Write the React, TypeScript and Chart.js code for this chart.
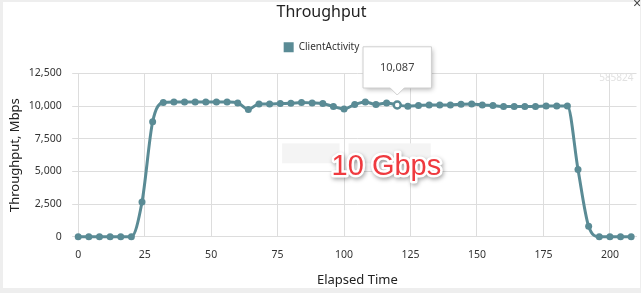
import React, { useEffect, useRef } from 'react';
import { Chart, registerables } from 'chart.js';

Chart.register(...registerables);

// ---- data ----
const elapsedTime = [
  0, 4, 8, 12, 16, 20, 24, 28, 32, 36, 40, 44, 48, 52, 56, 60, 64, 68, 72, 76,
  80, 84, 88, 92, 96, 100, 104, 108, 112, 116, 120, 124, 128, 132, 136, 140,
  144, 148, 152, 156, 160, 164, 168, 172, 176, 180, 184, 188, 192, 196, 200,
  204, 208,
];
const clientActivity = [
  0, 0, 0, 0, 0, 0, 2650, 8800, 10280, 10320, 10320, 10320, 10320, 10320,
  10310, 10250, 9750, 10170, 10170, 10200, 10220, 10270, 10250, 10200, 9970,
  9790, 10120, 10320, 10120, 10250, 10087, 10000, 10040, 10090, 10090, 10090,
  10140, 10170, 10090, 10040, 9970, 9970, 9970, 9970, 10020, 10020, 10020,
  5150, 800, 0, 0, 0, 0,
];
const seriesLabel = 'ClientActivity';
const chartTitle = 'Throughput';
const xAxisTitle = 'Elapsed Time';
const yAxisTitle = 'Throughput, Mbps';
const xMin = 0;
const xMax = 210;
const xStep = 25;
const yMin = 0;
const yMax = 12500;
const yStep = 2500;
const highlightIndex = 30;
const annotationText = '10 Gbps';
const annotationX = [95.3];
const annotationY = [4760];
const watermarkText = '585824';
// faint boxes behind the annotation: [x1, x2, y1, y2] in data units
const faintBoxes = [
  [76.7, 98.3, 5620, 7150],
  [101.7, 132.6, 5620, 7150],
];

const lineColor = '#5a8b95';
const fontFamily = "'Segoe UI', 'Noto Sans', 'Open Sans', sans-serif";

const overlayPlugin = {
  id: 'overlay',
  beforeDatasetsDraw(chart: any) {
    const { ctx, scales } = chart;
    const xs = scales.x;
    const ys = scales.y;
    ctx.save();
    ctx.fillStyle = '#f4f4f4';
    faintBoxes.forEach(([x1, x2, y1, y2]) => {
      const px1 = xs.getPixelForValue(x1);
      const px2 = xs.getPixelForValue(x2);
      const py1 = ys.getPixelForValue(y2);
      const py2 = ys.getPixelForValue(y1);
      ctx.fillRect(px1, py1, px2 - px1, py2 - py1);
    });
    ctx.font = `10px ${fontFamily}`;
    ctx.fillStyle = '#e2e2e2';
    ctx.textAlign = 'right';
    ctx.textBaseline = 'middle';
    ctx.fillText(watermarkText, chart.chartArea.right - 3, chart.chartArea.top + 5);
    ctx.restore();
  },
  afterDatasetsDraw(chart: any) {
    const { ctx, scales } = chart;
    const px = scales.x.getPixelForValue(annotationX[0]);
    const py = scales.y.getPixelForValue(annotationY[0]);
    ctx.save();
    ctx.font = `29px 'Liberation Sans', Arial, sans-serif`;
    ctx.textAlign = 'left';
    ctx.textBaseline = 'alphabetic';
    ctx.lineJoin = 'round';
    ctx.shadowColor = 'rgba(0,0,0,0.35)';
    ctx.shadowBlur = 4;
    ctx.shadowOffsetX = 1;
    ctx.shadowOffsetY = 2;
    ctx.lineWidth = 5;
    ctx.strokeStyle = '#ffffff';
    ctx.strokeText(annotationText, px, py);
    ctx.shadowColor = 'transparent';
    ctx.fillStyle = '#ef3a3f';
    ctx.fillText(annotationText, px, py);
    ctx.restore();
  },
  beforeTooltipDraw(chart: any, args: any) {
    const t = args.tooltip;
    if (!t || !t.opacity) return;
    const { ctx } = chart;
    ctx.save();
    ctx.shadowColor = 'rgba(0,0,0,0.3)';
    ctx.shadowBlur = 5;
    ctx.shadowOffsetX = 2;
    ctx.shadowOffsetY = 2;
    ctx.fillStyle = '#ffffff';
    ctx.fillRect(t.x, t.y, t.width, t.height);
    ctx.restore();
  },
};

export default function App() {
  const canvasRef = useRef<HTMLCanvasElement | null>(null);

  useEffect(() => {
    const canvas = canvasRef.current;
    if (!canvas) return;
    const points = elapsedTime.map((t, i) => ({ x: t, y: clientActivity[i] }));

    const chart = new Chart(canvas, {
      type: 'line',
      data: {
        datasets: [
          {
            label: seriesLabel,
            data: points,
            borderColor: lineColor,
            backgroundColor: lineColor,
            borderWidth: 3,
            pointRadius: 3.5,
            pointBorderWidth: 0,
            pointBackgroundColor: lineColor,
            pointHoverRadius: 3.5,
            pointHoverBorderWidth: 2.5,
            pointHoverBorderColor: lineColor,
            pointHoverBackgroundColor: '#ffffff',
            cubicInterpolationMode: 'monotone',
            clip: false as any,
          } as any,
        ],
      },
      options: {
        responsive: false,
        animation: false,
        events: [],
        layout: { padding: 0 },
        plugins: {
          title: {
            display: true,
            text: chartTitle,
            color: '#222',
            font: { size: 16, weight: 'normal', family: fontFamily },
            padding: { top: 1, bottom: 0 },
          },
          // empty spacer between legend and plot area
          subtitle: {
            display: true,
            text: '',
            weight: 500,
            font: { size: 1 },
            padding: { top: 10.1, bottom: 0 },
          } as any,
          legend: {
            display: true,
            position: 'top',
            labels: {
              boxWidth: 10,
              boxHeight: 10,
              padding: 20,
              color: '#333',
              font: { size: 10, family: fontFamily },
              generateLabels: (c: any) =>
                Chart.defaults.plugins.legend.labels
                  .generateLabels(c)
                  .map((l: any) => ({ ...l, lineWidth: 0 })),
            },
          } as any,
          tooltip: {
            enabled: true,
            backgroundColor: '#ffffff',
            borderColor: '#cfcfcf',
            borderWidth: 1,
            bodyColor: '#444',
            bodyFont: { size: 11, family: fontFamily },
            displayColors: false,
            cornerRadius: 0,
            caretSize: 7,
            caretPadding: 10,
            padding: { x: 17, y: 14 } as any,
            xAlign: 'center',
            yAlign: 'bottom',
            callbacks: {
              title: () => '',
              label: (ctx: any) => ctx.parsed.y.toLocaleString('en-US'),
            },
          },
        },
        scales: {
          x: {
            type: 'linear',
            min: xMin,
            max: xMax,
            ticks: {
              stepSize: xStep,
              includeBounds: false,
              color: '#333',
              font: { size: 10.5, family: fontFamily },
              padding: 12,
              maxRotation: 0,
            },
            grid: { color: '#dddddd', drawTicks: false },
            border: { color: '#dddddd' },
            title: {
              display: true,
              text: xAxisTitle,
              color: '#222',
              font: { size: 13, family: fontFamily },
              padding: { top: 10, bottom: 0 },
            },
            afterFit: (scale: any) => {
              scale.height = 51.3;
            },
          },
          y: {
            type: 'linear',
            min: yMin,
            max: yMax,
            ticks: {
              stepSize: yStep,
              color: '#333',
              font: { size: 10.5, family: fontFamily },
              padding: 10.5,
              callback: (v: any) => Number(v).toLocaleString('en-US'),
            },
            grid: { color: '#dddddd', drawTicks: true, tickLength: 6 },
            border: { color: '#dddddd' },
            title: {
              display: true,
              text: yAxisTitle,
              color: '#222',
              font: { size: 13, family: fontFamily },
              padding: { top: 4, bottom: 0 },
            },
            afterFit: (scale: any) => {
              scale.width = 75.2;
            },
          },
        },
      } as any,
      plugins: [overlayPlugin],
    });

    const active = [{ datasetIndex: 0, index: highlightIndex }];
    chart.setActiveElements(active);
    const el: any = chart.getDatasetMeta(0).data[highlightIndex];
    chart.tooltip?.setActiveElements(active, { x: el.x, y: el.y });
    chart.update();

    return () => {
      chart.destroy();
    };
  }, []);

  return (
    <div
      style={{
        position: 'fixed',
        left: 0,
        top: 0,
        width: 641,
        height: 293,
        background: '#eeeeee',
        overflow: 'hidden',
      }}
    >
      <div
        style={{
          position: 'absolute',
          left: 3,
          top: 2,
          width: 637,
          height: 286,
          background: '#ffffff',
        }}
      >
        <canvas ref={canvasRef} width={637} height={286} style={{ display: 'block' }} />
      </div>
      <div
        style={{
          position: 'absolute',
          left: 633,
          top: -4,
          fontSize: 14,
          lineHeight: '14px',
          color: '#444',
          fontFamily: 'sans-serif',
        }}
      >
        ×
      </div>
    </div>
  );
}
